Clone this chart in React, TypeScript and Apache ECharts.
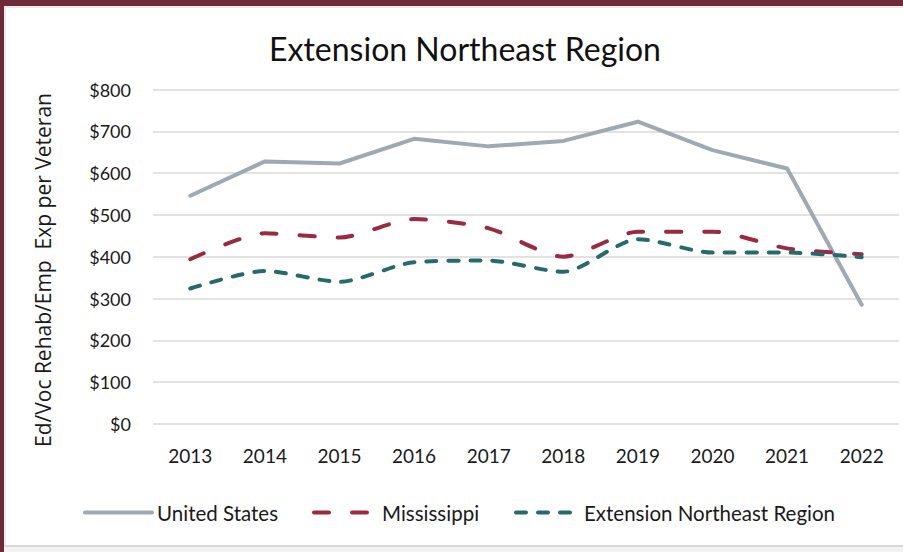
import React, { useEffect, useRef } from "react";
import * as echarts from "echarts";

const years = ["2013", "2014", "2015", "2016", "2017", "2018", "2019", "2020", "2021", "2022"];
const unitedStates = [546, 628, 623, 682, 664, 677, 723, 655, 611, 285];
const mississippi = [394, 456, 446, 490, 468, 400, 460, 460, 420, 406];
const extensionNE = [324, 366, 340, 387, 391, 364, 442, 410, 410, 399];

const FONT = "Lato";

export default function App() {
  const ref = useRef<HTMLDivElement>(null);
  useEffect(() => {
    if (!ref.current) return;
    const chart = echarts.init(ref.current, null, { renderer: "svg" });
    const legendCommon = {
      top: 497,
      itemHeight: 14,
      itemStyle: { opacity: 0 },
      lineStyle: { width: 4 },
      textStyle: { fontFamily: FONT, fontSize: 20.5, color: "#1a1a1a" },
    };
    chart.setOption({
      animation: false,
      backgroundColor: "#ffffff",
      title: {
        text: "Extension Northeast Region",
        left: 460,
        textAlign: "center",
        top: 27,
        textStyle: { fontFamily: FONT, fontSize: 32, fontWeight: "normal", color: "#111111" },
      },
      grid: { left: 153, right: 4, top: 89.5, bottom: 128, containLabel: false },
      xAxis: {
        type: "category",
        data: years,
        boundaryGap: true,
        axisLine: { show: false },
        axisTick: { show: false },
        axisLabel: { margin: 22, fontFamily: FONT, fontSize: 19, color: "#1a1a1a" },
      },
      yAxis: {
        type: "value",
        min: 0,
        max: 800,
        interval: 100,
        axisLine: { show: false },
        axisTick: { show: false },
        splitLine: { lineStyle: { color: "#D9D9D9", width: 1.5 } },
        axisLabel: {
          margin: 22,
          fontFamily: FONT,
          fontSize: 18,
          color: "#1a1a1a",
          formatter: (v: number) => "$" + v,
        },
      },
      legend: [
        { ...legendCommon, data: ["United States"], left: 78, itemWidth: 67 },
        { ...legendCommon, data: ["Mississippi"], left: 307, itemWidth: 63 },
        { ...legendCommon, data: ["Extension Northeast Region"], left: 509, itemWidth: 63 },
      ],
      series: [
        {
          name: "United States",
          type: "line",
          data: unitedStates,
          smooth: false,
          symbol: "none",
          color: "#9EA9B3",
          lineStyle: { color: "#9EA9B3", width: 4, cap: "round", join: "round" },
        },
        {
          name: "Mississippi",
          type: "line",
          data: mississippi,
          smooth: 0.25,
          symbol: "none",
          color: "#982A42",
          lineStyle: { color: "#982A42", width: 4, type: [15, 23], cap: "round" },
        },
        {
          name: "Extension Northeast Region",
          type: "line",
          data: extensionNE,
          smooth: 0.25,
          symbol: "none",
          color: "#276A6B",
          lineStyle: { color: "#276A6B", width: 4, type: [10, 12], cap: "round" },
        },
      ],
      graphic: [
        {
          type: "text",
          x: 43,
          y: 270,
          rotation: Math.PI / 2,
          style: {
            text: "Ed/Voc Rehab/Emp  Exp per Veteran",
            fontFamily: "Open Sans",
            fontSize: 21,
            fill: "#1a1a1a",
            align: "center",
            verticalAlign: "middle",
          },
        },
        { type: "rect", shape: { x: 0, y: 0, width: 903, height: 6 }, style: { fill: "#6D2A3B" } },
        { type: "rect", shape: { x: 0, y: 0, width: 4, height: 552 }, style: { fill: "#6D2A3B" } },
        { type: "rect", shape: { x: 4, y: 6, width: 899, height: 2 }, style: { fill: "#EBEBEB" } },
        { type: "rect", shape: { x: 4, y: 6, width: 2, height: 546 }, style: { fill: "#EBEBEB" } },
        { type: "rect", shape: { x: 4, y: 545, width: 899, height: 2 }, style: { fill: "#D6D6D6" } },
        { type: "rect", shape: { x: 4, y: 547, width: 899, height: 5 }, style: { fill: "#F2F2F2" } },
      ],
    });
    return () => chart.dispose();
  }, []);
  return (
    <div
      ref={ref}
      style={{ position: "absolute", left: 0, top: 0, width: 903, height: 552 }}
    />
  );
}
